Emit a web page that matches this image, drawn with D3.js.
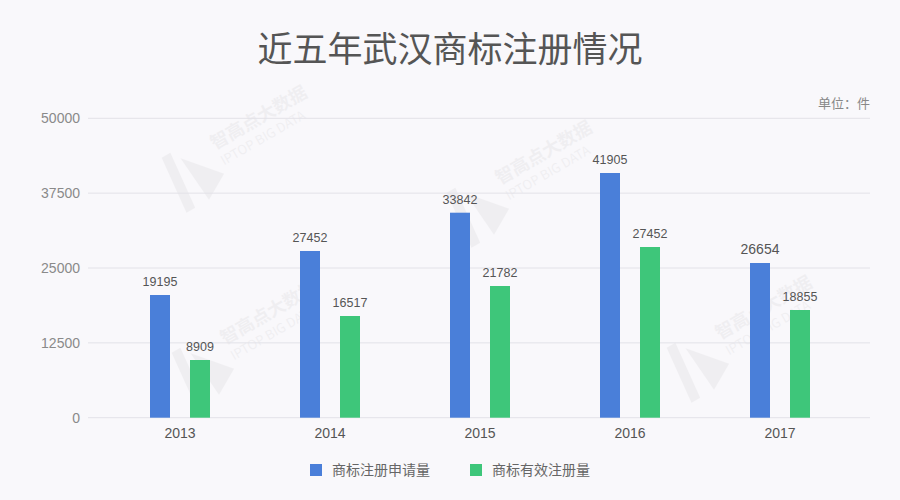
<!DOCTYPE html>
<html><head><meta charset="utf-8">
<script src="https://cdn.jsdelivr.net/npm/d3@7"></script>
<style>
html,body{margin:0;padding:0;background:#f9f8fb;}
svg{display:block;font-family:"Noto Sans CJK SC","Noto Sans",sans-serif;}
</style></head>
<body>
<svg id="c" width="900" height="500"></svg>
<script>
const years = ["2013","2014","2015","2016","2017"];
const seriesNames = ["商标注册申请量","商标有效注册量"];
// bar heights as drawn in the picture
const applyBars = [20490, 27840, 34235, 40865, 25835];
const validBars = [9636, 16984, 21994, 28507, 17986];
// value labels printed above the bars
const applyLabels = ["19195","27452","33842","41905","26654"];
const validLabels = ["8909","16517","21782","27452","18855"];
const yTicks = [0, 12500, 25000, 37500, 50000];
const colors = ["#4a7fd9","#3ec67a"];

const svg = d3.select("#c");
svg.append("rect").attr("width",900).attr("height",500).attr("fill","#f9f8fb");

const x = d3.scaleBand().domain(years).range([105,855]);
const y = d3.scaleLinear().domain([0,50000]).range([417.7,118.3]);

// watermarks
const wm = [[215,150],[500,185],[720,340],[225,345]];
wm.forEach(([cx,cy])=>{
  const g = svg.append("g").attr("transform",`translate(${cx},${cy}) rotate(-30)`).attr("opacity",0.045).attr("fill","#333");
  g.append("text").attr("x",0).attr("y",0).attr("font-size",18).attr("font-weight","bold").attr("text-anchor","start").text("智高点大数据");
  g.append("text").attr("x",0).attr("y",18).attr("font-size",13).attr("text-anchor","start").text("IPTOP BIG DATA");
  g.append("path").attr("d","M-50,-20 L-40,-20 L-46,40 L-56,40 Z M-34,-10 L-4,25 L-30,40 Z");
});

// grid
svg.append("g").selectAll("line").data(yTicks).join("line")
  .attr("x1",88).attr("x2",870).attr("y1",d=>y(d)).attr("y2",d=>y(d))
  .attr("stroke","#e3e2e8").attr("stroke-width",1);

// y axis labels
const yAxis = d3.axisLeft(y).tickValues(yTicks).tickSize(0).tickPadding(0).tickFormat(d3.format("d"));
const ya = svg.append("g").attr("transform","translate(80,0)").call(yAxis);
ya.select(".domain").remove();
ya.selectAll("text").attr("fill","#8a8a8a").attr("font-size",14).attr("font-family","'Helvetica Neue',Arial,'Liberation Sans',sans-serif");

// x axis labels
const xAxis = d3.axisBottom(x).tickSize(0).tickPadding(0);
const xa = svg.append("g").attr("transform","translate(0,428)").call(xAxis);
xa.select(".domain").remove();
xa.selectAll("text").attr("fill","#555").attr("font-size",14).attr("dy","0.7em").attr("font-family","'Helvetica Neue',Arial,'Liberation Sans',sans-serif");

// bars
const barW = 20, off = [-30, 10];
const series = [applyBars, validBars];
const labels = [applyLabels, validLabels];
series.forEach((vals,si)=>{
  svg.append("g").selectAll("rect").data(vals).join("rect")
    .attr("x",(d,i)=>x(years[i])+x.bandwidth()/2+off[si])
    .attr("width",barW)
    .attr("y",d=>y(d)).attr("height",d=>y(0)-y(d))
    .attr("fill",colors[si]);
  svg.append("g").selectAll("text").data(vals).join("text")
    .attr("x",(d,i)=>x(years[i])+x.bandwidth()/2+off[si]+barW/2)
    .attr("y",d=>y(d)-9)
    .attr("text-anchor","middle")
    .attr("fill","#555")
    .attr("font-size",(d,i)=>(si===0&&i===4)?14:12.5)
    .attr("font-family","'Helvetica Neue',Arial,'Liberation Sans',sans-serif")
    .text((d,i)=>labels[si][i]);
});

// title
svg.append("text").attr("x",450).attr("y",62).attr("text-anchor","middle")
  .attr("font-size",35).attr("fill","#555").text("近五年武汉商标注册情况");

// unit
svg.append("text").attr("x",870).attr("y",108).attr("text-anchor","end")
  .attr("font-size",13).attr("fill","#888").text("单位：件");

// legend
const lg = svg.append("g");
const lx = [310, 470];
seriesNames.forEach((n,i)=>{
  lg.append("rect").attr("x",lx[i]).attr("y",464).attr("width",12).attr("height",12).attr("fill",colors[i]);
  lg.append("text").attr("x",lx[i]+22).attr("y",475).attr("font-size",14).attr("fill","#666").text(n);
});
</script>
</body></html>
